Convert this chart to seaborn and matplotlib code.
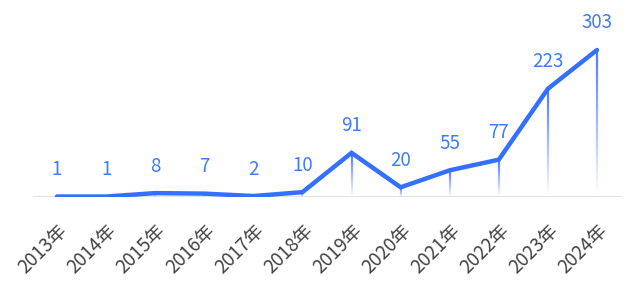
import numpy as np
import pandas as pd
import matplotlib
matplotlib.use("Agg")
import matplotlib.pyplot as plt
import seaborn as sns
from matplotlib.collections import LineCollection

years = ["2013年", "2014年", "2015年", "2016年", "2017年", "2018年",
         "2019年", "2020年", "2021年", "2022年", "2023年", "2024年"]
counts = [1, 1, 8, 7, 2, 10, 91, 20, 55, 77, 223, 303]

df = pd.DataFrame({"year": years, "count": counts})
df["pos"] = np.arange(len(years))

sns.set_style("white")
plt.rcParams['font.family'] = ['Noto Sans CJK SC', 'DejaVu Sans']

fig = plt.figure(figsize=(6.33, 2.84), dpi=100)
ax = fig.add_axes([32.5 / 633, 87 / 284, 589 / 633, 197 / 284])

line_color = "#3370ff"
label_color = "#3f7cf5"

# gradient drop lines
nseg = 40
for x, y in zip(df["pos"], df["count"]):
    ys = np.linspace(0, y, nseg + 1)
    segs = [[(x, ys[i]), (x, ys[i + 1])] for i in range(nseg)]
    alphas = np.linspace(0.0, 1.0, nseg)
    cols = [(0.30, 0.47, 1.0, a) for a in alphas]
    ax.add_collection(LineCollection(segs, colors=cols, linewidths=1.6, zorder=2))

ax.axhline(0, color="#dddddd", lw=1.2, zorder=1)

sns.lineplot(data=df, x="pos", y="count", ax=ax, color=line_color,
             linewidth=3.2, zorder=3, solid_joinstyle="miter")

for x, y in zip(df["pos"], df["count"]):
    ax.annotate(str(y), (x, y), xytext=(0, 27), textcoords="offset pixels",
                ha="center", va="center", fontsize=13.5, color=label_color,
                fontweight="light")

ax.set_xlim(-0.5, len(years) - 0.5)
ax.set_ylim(0, 406)
ax.set_xticks(df["pos"])
ax.set_xticklabels(years, rotation=45, ha="right", rotation_mode="anchor",
                   fontsize=13.5, color="#444444", fontweight="light")
ax.tick_params(axis="x", length=0, pad=17)
ax.set_yticks([])
ax.set_xlabel("")
ax.set_ylabel("")
for s in ax.spines.values():
    s.set_visible(False)

fig.savefig("out.png", dpi=100)
